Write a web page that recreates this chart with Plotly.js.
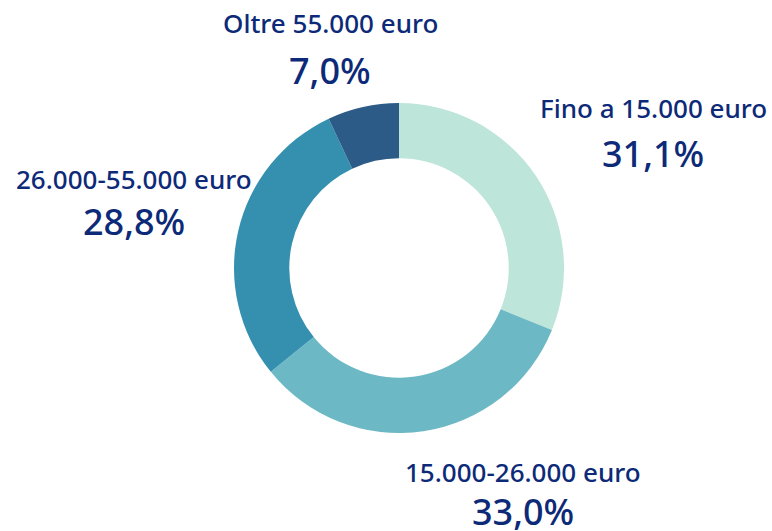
<!DOCTYPE html>
<html><head><meta charset="utf-8">
<script src="https://cdn.plot.ly/plotly-3.0.1.min.js"></script>
<style>html,body{margin:0;padding:0;background:#fff}#chart{width:772px;height:531px}</style>
</head><body><div id="chart"></div>
<script>
const categories = ["Fino a 15.000 euro", "15.000-26.000 euro", "26.000-55.000 euro", "Oltre 55.000 euro"];
const values = [31.1, 33.0, 28.8, 7.0];
const colors = ["#bde5da", "#6db8c5", "#3590b0", "#2d5b87"];
const labelPos = [[653, 108, 153], [523, 472, 511], [134, 179, 221], [330, 23, 70]];
const navy = "#0d2a78";
const fmt = v => v.toFixed(1).replace(".", ",") + "%";
const W = 772, H = 531;
const anns = [];
categories.forEach((c, i) => {
  const p = labelPos[i];
  anns.push({x: p[0] / W, y: 1 - p[1] / H, xref: "paper", yref: "paper", text: c, showarrow: false,
    xanchor: "center", yanchor: "middle", font: {family: "Noto Sans", size: 26, color: navy, weight: 500}});
  anns.push({x: p[0] / W, y: 1 - p[2] / H, xref: "paper", yref: "paper", text: fmt(values[i]), showarrow: false,
    xanchor: "center", yanchor: "middle", font: {family: "Noto Sans", size: 36, color: navy, weight: 500}});
});
const cx = 399, cy = 268, r = 165;
Plotly.newPlot("chart", [{
  type: "pie", labels: categories, values: values, sort: false, direction: "clockwise", rotation: 0,
  hole: 0.665, textinfo: "none", hoverinfo: "label+percent",
  marker: {colors: colors, line: {color: "#ffffff", width: 0}},
  domain: {x: [(cx - r) / W, (cx + r) / W], y: [(H - cy - r) / H, (H - cy + r) / H]}
}], {
  width: W, height: H, margin: {l: 0, r: 0, t: 0, b: 0}, showlegend: false,
  paper_bgcolor: "#ffffff", annotations: anns
}, {displayModeBar: false, staticPlot: true});
</script></body></html>
